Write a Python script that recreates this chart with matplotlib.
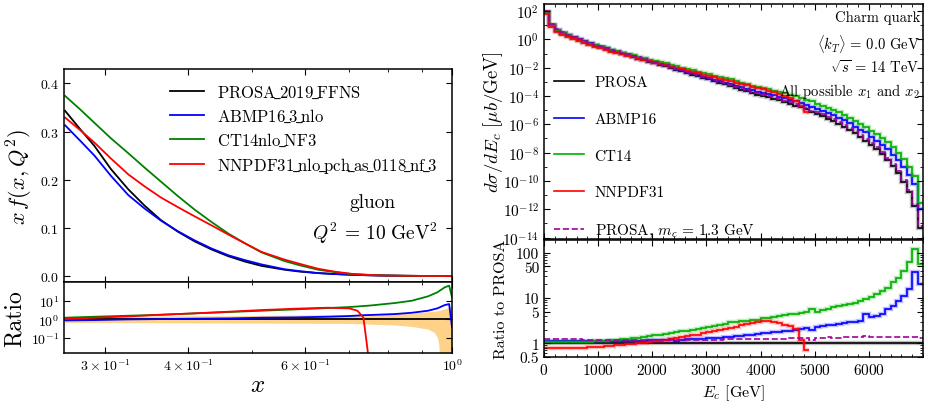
import numpy as np
import matplotlib.pyplot as plt
from matplotlib.lines import Line2D
from matplotlib.ticker import FixedLocator, NullFormatter

plt.rcParams.update({
    'font.family': 'serif',
    'font.serif': ['cmr10'],
    'mathtext.fontset': 'cm',
    'axes.formatter.use_mathtext': True,
    'axes.unicode_minus': False,
    'xtick.direction': 'in',
    'ytick.direction': 'in',
    'xtick.top': True,
    'ytick.right': True,
    'axes.linewidth': 1.1,
})

# ---- left: gluon PDFs at Q^2 = 10 GeV^2 ----
pdf_x = [0.261, 0.275, 0.289, 0.306, 0.325, 0.344, 0.364, 0.386, 0.409, 0.434, 0.460, 0.487,
         0.516, 0.559, 0.59, 0.628, 0.665, 0.705, 0.75, 0.791, 0.85, 0.9, 0.95, 1.0]
pdf_prosa = [0.343, 0.305, 0.270, 0.222, 0.180, 0.146, 0.116, 0.092, 0.072, 0.055, 0.041, 0.030,
             0.021, 0.013, 0.009, 0.006, 0.004, 0.0025, 0.0014, 0.0008, 0.0003, 0.0001, 0.00002, 0.0]
pdf_abmp = [0.313, 0.281, 0.250, 0.208, 0.168, 0.140, 0.115, 0.093, 0.074, 0.057, 0.043, 0.033,
            0.024, 0.014, 0.010, 0.006, 0.004, 0.0025, 0.0014, 0.0008, 0.0003, 0.0001, 0.00002, 0.0]
pdf_ct14 = [0.374, 0.346, 0.318, 0.286, 0.255, 0.225, 0.196, 0.166, 0.138, 0.112, 0.088, 0.068,
            0.049, 0.031, 0.022, 0.013, 0.008, 0.004, 0.0022, 0.0011, 0.0004, 0.0001, 0.00002, 0.0]
pdf_nnpdf = [0.329, 0.303, 0.277, 0.244, 0.211, 0.186, 0.163, 0.143, 0.124, 0.105, 0.086, 0.068,
             0.050, 0.034, 0.025, 0.015, 0.009, 0.0045, 0.002, 0.001, 0.0004, 0.0001, 0.00002, 0.0]
pdf_names = ['PROSA_2019_FFNS', 'ABMP16_3_nlo', 'CT14nlo_NF3', 'NNPDF31_nlo_pch_as_0118_nf_3']

rat_x = [0.261, 0.289, 0.325, 0.364, 0.409, 0.460, 0.516, 0.58, 0.65, 0.70,
         0.72, 0.735, 0.742, 0.748, 0.82, 0.87, 0.92, 0.95, 0.975, 0.99, 1.0]
rat_abmp = [0.88, 0.92, 1.0, 1.04, 1.09, 1.13, 1.23, 1.28, 1.39, 1.51,
            1.60, 1.68, 1.70, 1.71, 1.93, 2.27, 2.91, 3.88, 5.85, 6.6, 0.37]
rat_ct14 = [1.23, 1.39, 1.57, 1.76, 2.10, 2.47, 2.91, 3.43, 4.05, 4.58,
            4.9, 5.2, 5.3, 5.4, 7.5, 10.0, 17.1, 27.9, 51.9, 63.5, 15.1]
rat_nnpdf_x = [0.261, 0.289, 0.325, 0.364, 0.409, 0.460, 0.516, 0.58, 0.65, 0.70, 0.72, 0.735, 0.742, 0.748]
rat_nnpdf = [1.04, 1.23, 1.45, 1.78, 2.10, 2.57, 3.16, 3.73, 4.21, 3.88, 2.91, 1.28, 0.10, 0.01]
band_x = [0.261, 0.46, 0.70, 0.82, 0.87, 0.92, 0.94, 0.95, 0.955, 0.96, 0.975, 1.0]
band_lo = [0.69, 0.64, 0.61, 0.50, 0.42, 0.30, 0.20, 0.11, 0.05, 0.001, 0.001, 0.001]
band_hi = [1.45, 1.57, 1.85, 2.0, 2.18, 2.57, 2.8, 2.91, 3.0, 3.1, 3.6, 5.0]

# ---- right: charm energy spectrum, 100 GeV bins ----
e_edges = np.arange(0, 7001, 100)
prosa_log = [1.9, 1.0, 0.62, 0.42, 0.25, 0.10, -0.05, -0.19, -0.33, -0.45,
             -0.57, -0.69, -0.80, -0.91, -1.02, -1.13, -1.24, -1.35, -1.46, -1.58,
             -1.69, -1.80, -1.91, -2.03, -2.14, -2.26, -2.37, -2.49, -2.60, -2.72,
             -2.83, -2.95, -3.06, -3.18, -3.30, -3.42, -3.54, -3.66, -3.78, -3.90,
             -4.00, -4.10, -4.20, -4.31, -4.43, -4.55, -4.68, -4.81, -4.95, -5.10,
             -5.26, -5.42, -5.59, -5.77, -5.96, -6.17, -6.40, -6.64, -6.90, -7.17,
             -7.46, -7.77, -8.12, -8.50, -8.95, -9.45, -10.05, -10.8, -11.75, -13.3]
ratio_abmp = [1.10, 1.10, 1.10, 1.10, 1.10, 1.11, 1.11, 1.11, 1.11, 1.12,
              1.12, 1.12, 1.12, 1.13, 1.13, 1.13, 1.14, 1.14, 1.15, 1.17,
              1.18, 1.19, 1.20, 1.22, 1.12, 1.20, 1.22, 1.23, 1.24, 1.25,
              1.28, 1.30, 1.33, 1.36, 1.40, 1.43, 1.47, 1.51, 1.55, 1.60,
              1.65, 1.70, 1.75, 1.80, 1.85, 1.90, 1.98, 2.05, 2.20, 2.00,
              2.30, 2.40, 2.50, 2.60, 2.70, 2.80, 2.90, 3.00, 3.10, 4.50,
              3.90, 4.00, 4.50, 5.60, 6.50, 8.50, 11.0, 16.0, 37.0, 20.0]
ratio_ct14 = [1.06, 1.06, 1.06, 1.07, 1.07, 1.07, 1.08, 1.08, 1.09, 1.10,
              1.11, 1.13, 1.16, 1.19, 1.22, 1.26, 1.30, 1.34, 1.38, 1.43,
              1.50, 1.56, 1.62, 1.70, 1.76, 1.84, 1.92, 2.00, 2.08, 2.16,
              2.30, 2.40, 2.50, 2.62, 2.95, 3.00, 3.05, 3.15, 3.25, 3.35,
              3.55, 3.70, 3.85, 4.00, 4.15, 4.35, 4.50, 4.70, 4.85, 5.60,
              4.90, 5.50, 5.80, 6.20, 6.50, 6.90, 7.40, 7.90, 8.60, 9.30,
              10.5, 12.0, 14.0, 17.0, 22.0, 28.0, 40.0, 62.0, 120.0, 56.0]
ratio_nnpdf = [0.81, 0.80, 0.79, 0.79, 0.79, 0.80, 0.80, 0.81, 0.82, 0.83,
               0.85, 0.86, 0.88, 0.90, 0.92, 0.95, 0.97, 1.00, 1.03, 1.06,
               1.10, 1.14, 1.19, 1.25, 1.30, 1.38, 1.44, 1.50, 1.56, 1.65,
               1.75, 1.85, 1.98, 2.10, 2.20, 2.35, 2.50, 2.65, 2.78, 2.90,
               3.05, 3.05, 2.95, 2.85, 2.60, 2.40, 2.06, 1.18, 0.71]
ratio_mc13 = [1.23, 1.23, 1.22, 1.22, 1.22, 1.22, 1.22, 1.21, 1.21, 1.21,
              1.21, 1.21, 1.20, 1.20, 1.20, 1.20, 1.20, 1.20, 1.20, 1.19,
              1.19, 1.19, 1.19, 1.19, 1.19, 1.19, 1.19, 1.19, 1.20, 1.20,
              1.20, 1.21, 1.21, 1.22, 1.22, 1.23, 1.23, 1.24, 1.24, 1.25,
              1.25, 1.26, 1.26, 1.27, 1.27, 1.28, 1.28, 1.29, 1.30, 1.16,
              1.32, 1.33, 1.35, 1.34, 1.33, 1.36, 1.35, 1.37, 1.36, 1.42,
              1.36, 1.38, 1.37, 1.38, 1.37, 1.39, 1.38, 1.40, 1.38, 1.30]
spec_labels = ['PROSA', 'ABMP16', 'CT14', 'NNPDF31', r'PROSA, $m_c\, =\, 1.3$ GeV']


def tex_name(name):
    # cmr10 has no real underscore glyph, so set the names in mathtext
    parts = [r'\mathrm{%s}' % p for p in name.split('_')]
    return '$' + r'\!\_\!'.join(parts) + '$'


fig = plt.figure(figsize=(9.29, 4.10), dpi=100)

# left panels
ax1 = fig.add_axes([0.0689, 0.3098, 0.4177, 0.5195])
ax2 = fig.add_axes([0.0689, 0.1366, 0.4177, 0.1732], sharex=ax1)

left_cols = ['black', 'blue', 'green', 'red']
for y, c, name in zip([pdf_prosa, pdf_abmp, pdf_ct14, pdf_nnpdf], left_cols, pdf_names):
    ax1.plot(pdf_x, y, color=c, lw=1.3, label=tex_name(name))
ax1.set_xscale('log')
ax1.set_xlim(0.26, 1.0)
ax1.set_ylim(-0.0125, 0.43)
ax1.set_yticks([0.0, 0.1, 0.2, 0.3, 0.4])
ax1.tick_params(labelsize=10, labelbottom=False)
ax1.set_ylabel(r'$x\,f(x,Q^2)$', fontsize=16)
ax1.yaxis.set_label_coords(-0.075, 0.5)
ax1.legend(loc='upper left', bbox_to_anchor=(0.235, 1.0), frameon=False, fontsize=12,
           handlelength=2.0, handletextpad=0.8, labelspacing=0.4)
ax1.text(0.796, 0.376, 'gluon', transform=ax1.transAxes, ha='center', va='center', fontsize=14)
ax1.text(0.80, 0.235, r'$Q^2\, =\, 10\ \mathrm{GeV}^2$', transform=ax1.transAxes,
         ha='center', va='center', fontsize=14)

ax2.fill_between(band_x, band_lo, band_hi, color='#ffd28a', lw=0)
ax2.plot(pdf_x, np.ones(len(pdf_x)), color='black', lw=1.3)
ax2.plot(rat_x, rat_abmp, color='blue', lw=1.3)
ax2.plot(rat_x, rat_ct14, color='green', lw=1.3)
ax2.plot(rat_nnpdf_x, rat_nnpdf, color='red', lw=1.3)
ax2.set_yscale('log')
ax2.set_ylim(0.016, 100)
ax2.set_yticks([0.1, 1, 10])
ax2.set_xticks([0.3, 0.4, 0.6, 1.0],
               labels=[r'$3\times10^{-1}$', r'$4\times10^{-1}$', r'$6\times10^{-1}$', r'$10^{0}$'])
ax2.xaxis.set_minor_locator(FixedLocator([0.5, 0.7, 0.8, 0.9]))
ax2.xaxis.set_minor_formatter(NullFormatter())
ax2.tick_params(labelsize=10)
ax2.set_xlim(0.26, 1.0)
ax2.set_ylabel('Ratio', fontsize=17)
ax2.yaxis.set_label_coords(-0.10, 0.5)
ax2.set_xlabel(r'$x$', fontsize=18, labelpad=0)

# right panels
ax3 = fig.add_axes([0.5856, 0.4146, 0.408, 0.5732])
ax4 = fig.add_axes([0.5856, 0.1268, 0.408, 0.2854], sharex=ax3)

prosa = 10.0 ** np.array(prosa_log)
series = [
    (prosa, np.ones(len(prosa)), e_edges, 'black', '-'),
    (prosa * np.array(ratio_abmp), np.array(ratio_abmp), e_edges, 'blue', '-'),
    (prosa * np.array(ratio_ct14), np.array(ratio_ct14), e_edges, '#00b000', '-'),
    (prosa[:len(ratio_nnpdf)] * np.array(ratio_nnpdf), np.array(ratio_nnpdf),
     e_edges[:len(ratio_nnpdf) + 1], 'red', '-'),
    (prosa * np.array(ratio_mc13), np.array(ratio_mc13), e_edges, '#a000a0', '--'),
]
for top, rat, edges, c, ls in series:
    for ax, vals in ((ax3, top), (ax4, rat)):
        if ls == '-':
            ax.stairs(vals, edges, baseline=None, color=c, lw=3.2, alpha=0.25)
        ax.stairs(vals, edges, baseline=None, color=c, lw=1.2, ls=ls)

ax3.set_yscale('log')
ax3.set_xlim(0, 7000)
ax3.set_ylim(10 ** -14.1, 10 ** 2.5)
ax3.set_yticks(10.0 ** np.arange(-14, 3, 2))
ax3.yaxis.set_minor_locator(FixedLocator(10.0 ** np.arange(-14, 3)))
ax3.yaxis.set_minor_formatter(NullFormatter())
ax3.xaxis.set_major_locator(FixedLocator(np.arange(0, 7000, 1000)))
ax3.xaxis.set_minor_locator(FixedLocator(np.arange(0, 7001, 200)))
ax3.tick_params(labelsize=11, labelbottom=False)
ax3.set_ylabel(r'$d\sigma/dE_c\ [\mu b/\mathrm{GeV}]$', fontsize=13.5)
ax3.yaxis.set_label_coords(-0.103, 0.5)
handles = [Line2D([], [], color=c, lw=1.2, ls=ls) for (_, _, _, c, ls) in series]
ax3.legend(handles, spec_labels, loc='lower left', bbox_to_anchor=(-0.01, -0.06), frameon=False,
           fontsize=11, handlelength=1.96, handletextpad=0.7, labelspacing=1.5)
for txt, yy in zip(['Charm quark', r'$\langle k_T\rangle\, =\, 0.0$ GeV', r'$\sqrt{s}\, =\, 14$ TeV',
                    r'All possible $x_1$ and $x_2$'], [0.945, 0.834, 0.736, 0.634]):
    ax3.text(0.992, yy, txt, transform=ax3.transAxes, ha='right', va='center', fontsize=10.5)

ax4.set_yscale('log')
ax4.set_ylim(0.5, 190)
ax4.set_yticks([0.5, 1, 5, 10, 50, 100], labels=['0.5', '1', '5', '10', '50', '100'])
ax4.yaxis.set_minor_formatter(NullFormatter())
ax4.tick_params(labelsize=11)
ax4.set_xlim(0, 7000)
ax4.set_ylabel('Ratio to PROSA', fontsize=11.5)
ax4.yaxis.set_label_coords(-0.095, 0.5)
ax4.set_xlabel(r'$E_c$ [GeV]', fontsize=11.5)

for ax in (ax1, ax2, ax3, ax4):
    ax.tick_params(which='both', direction='in', top=True, right=True)
    ax.tick_params(which='major', length=4)
    ax.tick_params(which='minor', length=2)

fig.savefig('out.png', dpi=100)
